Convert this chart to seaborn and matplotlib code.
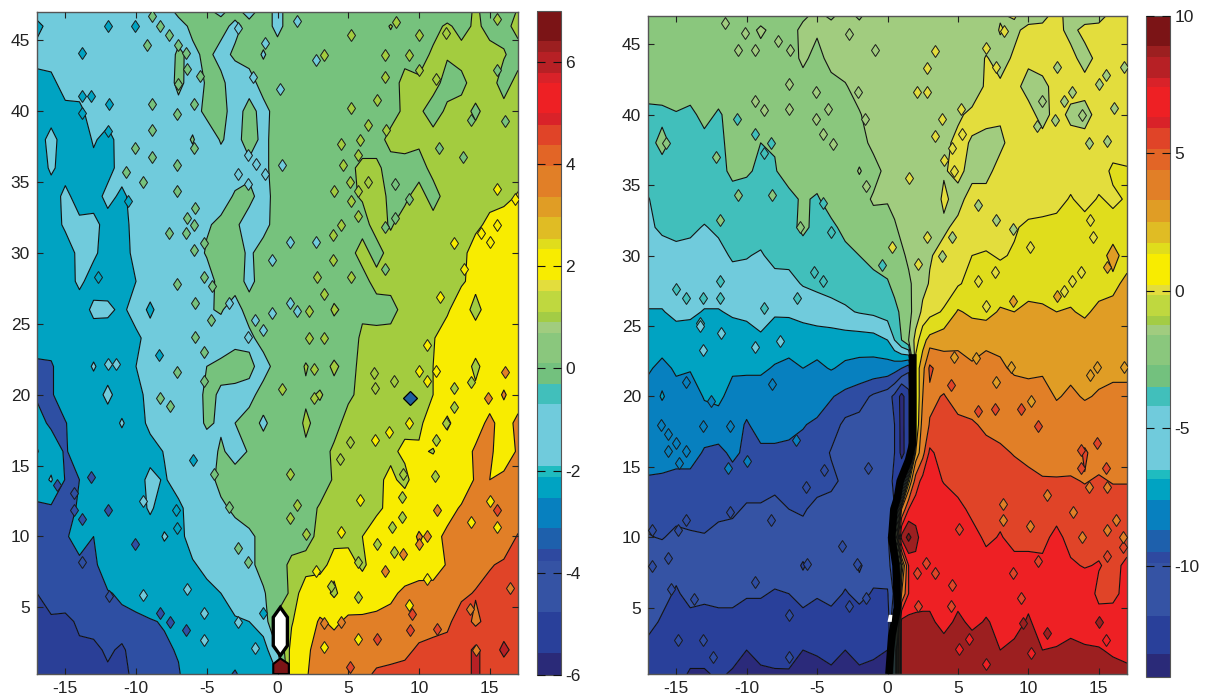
import numpy as np
import matplotlib
matplotlib.use("Agg")
import matplotlib.pyplot as plt
from matplotlib.colors import ListedColormap, BoundaryNorm
from matplotlib.colorbar import ColorbarBase
import seaborn as sns

y_rows = [47, 46, 44, 42, 40, 38, 36, 34, 32, 30, 28, 26, 24, 22, 20, 18, 16, 14, 12, 10, 8, 6, 4, 2, 0.3]
x_left = list(range(-17, 18))
x_right = list(range(-17, 0)) + [0, .5, 1, 1.5, 2, 2.5] + list(range(3, 18))

z_left = [
 [-1.2,-1.2,-1.2,-1.2,-1.2,-1.2,-1.2,-1.2,-1.2,-1.2, -.2,-.3,-.3,-.7,-.1,-.9,0,-.8,0,0, 0,0,0,0,0,0,0,0,0,0, .1,.9,.2,.1,.8],
 [-2.6,-1.2,-1.2,-1.2,-1.2,-1.2,-1.2,-1.2,-.6,-.8, -1,-.2,-.5,-.1,-.8,-.1,0,-.8,0,0, 0,0,.7,0,0,.8,0,.3,.3,.9, .3,.9,.4,.3,1.1],
 [-1.2,-1.2,-1.2,-1.2,-1.2,-1.2,-1.2,-1.2,-.9,-1.2, -.3,-.8,-.2,-.9,-.3,0,-.6,0,0,-.1, 0,0,0,0,0,0,.5,.2,.9,.8, 1.1,1.2,1,.8,.2],
 [-2.8,-2.5,-1.2,-1.2,-1.2,-1.2,-1.2,-1.2,-.9,-1.2, -.2,-1,-.4,-.2,-1.2,-1,0,-.4,0,0, 0,0,0,0,0,.4,.9,.9,1.1,.3, .4,1.2,1.2,.2,1.1],
 [-3.2,-3,-2.5,-2.4,-1.2,-1.2,-1.2,-1.2,-1.2,-1.2, -.9,-1,-.2,-.1,-1,-.1,-.9,0,0,0, 0,0,.5,.5,0,.3,.9,.9,.2,.9, 1.1,.5,1.1,1.1,1.1],
 [-3,-1.3,-3,-3.2,-1.8,-2.6,-1.2,-1.2,-1.2,-1.2, -1,-.4,-1.2,-.4,-.9,0,-.8,0,0,0, 0,.5,.5,.3,.3,1,1.1,.9,1.1,1.1, 1.1,1.1,1.1,1.1,1.1],
 [-3.5,-1.6,-3,-2.9,-2.5,-2.7,-1.2,-1.2,-1.2,-1.2, -1.2,-1,-.6,-1,-.9,-.8,-.8,0,.1,0, 0,0,.5,.9,.9,.3,.3,.3,1,1.1, 1.1,1.1,1.1,1.1,1.1],
 [-3.2,-3.2,-1.4,-3,-2.9,-1.4,-2.4,-1.2,-1.2,-1.2, -1.2,-1.2,-1,-.9,-.4,-.2,-1,0,0,0, 0,0,.5,.8,.9,.6,.5,1.1,.3,1.1, 1.2,1.1,1.2,1.2,1.7],
 [-3.2,-3.2,-1.6,-1.5,-1.4,-2.8,-2.8,-1.2,-1.2,-1.2, -1.2,-1,-.6,-.3,-.3,-1,-.9,0,0,0, 0,0,0,.3,1.1,.6,1.1,1.1,1.1,1.1, 1.2,1.3,1.9,2.3,2.1],
 [-3.2,-3.2,-3.2,-1.4,-1.6,-3,-3,-1.3,-1.2,-1.2, -1.2,-1,-.4,-.1,0,-.7,0,0,0,0, 0,0,.3,1.1,.3,1.1,1.1,1.1,1.1,1.1, 1.2,2.2,2.2,2.5,2.6],
 [-3.2,-3.2,-3.2,-1.5,-3,-2.9,-2.6,-2,-1.2,-1.2, -1.2,-1,-1,-.1,0,-.8,0,0,0,0, 0,0,.5,.3,1.1,1.1,1.1,1.1,1.1,1.2, 1.4,2.1,2.6,2.6,2.6],
 [-3.2,-3.2,-3.2,-3.2,-1.5,-1.6,-2.4,-1.2,-2.3,-1.2, -1.2,-1,-.6,-.4,-1,0,0,0,-.3,.3, 0,.9,.3,.5,.2,.3,1.1,1.1,1.2,1.4, 2.5,1,2.5,2.5,2.1],
 [-3.2,-3.2,-3.2,-3.2,-3.1,-3,-3,-2.4,-1.3,-1.2, -1.2,-1,-1,-1,-.7,-.8,0,0,0,0, 0,0,.1,.9,1.1,1.1,1.1,1.1,1.5,2.3, 2.6,2.6,2.6,2.6,2.6],
 [-4.3,-4.2,-3,-3,-1.8,-3,-3,-2,-1.2,-1.2, -1.2,-1,-.5,-.3,-.2,-.2,-1,0,0,.8, .2,.9,.3,1,1.1,1.1,1.1,1.2,1.6,1.8, 2.6,1.2,2.5,2.5,2.5],
 [-4.2,-4.2,-3,-3,-3,-1.5,-3,-2.8,-1.2,-1.2, -1.2,-1,-.3,-.6,-.7,-.9,0,0,0,.5, .8,.3,.5,1,1.1,1.2,1.1,1.4,1.6,2.5, 2.5,2,2.5,3.7,2.5],
 [-3.4,-4.3,-4.1,-3,-3,-3,-1.8,-3,-1.5,-1.2, -1.2,-1.2,-.3,-.7,-.5,0,-.7,0,0,.9, .3,.3,1.1,1.1,1.1,1.6,1.2,1.3,2.4,1.3, 2.5,2.6,4,2.6,4],
 [-4.1,-3,-4.2,-3,-3,-3,-3,-3,-2.8,-1.9, -1.2,-1.2,-1.2,-.3,-1,-.4,0,0,.5,.5, .2,.9,1.1,1.1,1.1,1.3,1.9,1.8,1.5,2.5, 2.5,3.8,3.8,2.6,3.7],
 [-3,-1.8,-4.1,-4,-3.2,-3,-3,-3,-1.4,-2.2, -1.2,-1,-.9,-.2,.1,0,0,0,0,0, .2,.8,1,1.1,1.3,1.9,1.2,2.5,2.6,2.5, 2.3,3.7,3.5,3.9,3.9],
 [-4.3,-4.3,-4.3,-3.9,-3.2,-3,-3,-3,-1.7,-3, -2.4,-1.2,-1.2,-.7,-.3,0,0,0,0,.3, .8,1,1,1.1,1.3,2,2.5,2.6,2.8,2.8, 3.7,3.9,4,4,4],
 [-4.5,-4.3,-4.3,-3,-4,-3,-3,-3,-3,-1.8, -2.6,-1.2,-1,-.9,-.9,-.7,-.2,0,.3,.3, 1,1.3,1.2,1.6,2.4,2.5,2.6,3.7,2.9,3.9, 4,4,4,4,4.9],
 [-4.5,-4.5,-4.5,-4.5,-4.3,-3.2,-3,-3,-3,-3, -2.8,-2.2,-1.5,-1,-.9,-.7,-.2,.3,.9,1.1, 1.2,2,2.2,1.3,2.4,2.5,2.6,3,2.9,3.6, 3.9,4.2,4.7,5,5],
 [-5,-4.7,-4.3,-4.4,-4.2,-4.1,-3.8,-3.6,-3.1,-3, -2.9,-2.8,-2.5,-2,-1.6,-1.2,-.6,.1,.9,2.3, 2.4,1.3,2.5,2.6,2.8,3.2,3.8,3.9,4,4.2, 4.5,4.9,5.2,5.3,5.3],
 [-5,-5.1,-5.3,-4.8,-4.5,-4.3,-4.3,-4.2,-4.1,-3.9, -3,-3,-3,-2.9,-2.1,-2,-1.2,1,1.5,2.5, 3.7,3.2,3.8,3.8,3.9,4,4.1,4.2,4.3,4.5, 5.5,4.5,5.3,5.3,5.3],
 [-5.3,-5.3,-5.2,-5.2,-5.3,-4.8,-5.2,-4.4,-4.4,-4.2, -3.9,-3.6,-3.2,-3,-3,-2.9,-2.7,-.5,2,3.3, 3.9,4.2,4.2,4.2,4.2,4.2,4.5,5,5.2,5.3, 5.3,6.3,5.3,6.3,5.5],
 [-5.2,-5.2,-5.2,-5.2,-5.2,-5.2,-5.2,-4.8,-4.8,-4.4, -4.1,-3.3,-3.8,-3.3,-4.2,-3,-3,-2,2.3,3.4, 4,4,4,4.4,5,5.2,5.2,5.3,5.3,5.3, 5.3,6.3,5.3,5.3,5.5],
]

z_right = [
 [-2.2,-2.2,-2.2,-2.2,-2.2,-2.2,-2.2,-2.2,-2.2,-2, -1.8,-1.7,-1.2,-1.7,-1,-1.7,-.8, -.8,-.8,-.8,-.8,-.8,-.8,-.8, -.8,-.8,-.8,-.8,-.1,.1,-.6,-.3,.4,-.5, -.6,-.4,.4,.4],
 [-2.2,-2.2,-2.2,-2.2,-2.2,-1.6,-2.2,-2.2,-1.2,-2, -2,-1.2,-1.3,-1,-.9,-1,-.8, -.8,-.8,-.8,-.8,-.8,-.8,-.8, -.8,-.8,-.8,-.8,.1,-.3,.4,.3,.4,-.4, .4,.4,.3,.4],
 [-2.2,-2.2,-2.2,-2.2,-2.2,-2.2,-2.2,-2.2,-2.2,-1.7, -2.2,-1.2,-2,-1,-.9,-1,-.8, -.8,-.8,-.8,-.8,-.8,-.8,-.8, -.8,-.8,-.8,.1,-.5,.2,.3,.5,.5,.4, -.5,.4,.5,.5],
 [-2.2,-2.2,-2.2,-2.2,-2.2,-2.2,-2.2,-2.2,-2.2,-2.2, -2.2,-2.1,-2,-2,-1.6,-1,-.9, -.8,-.8,-.8,-.8,-.8,-.8,-.4, -.8,-.8,-.8,.2,.2,.4,-.5,-.3,.4,.5, .5,.5,.5,.5],
 [-3.5,-3.4,-3.1,-3.4,-2.5,-3.2,-2.4,-2.8,-2.2,-2.2, -2.2,-2.2,-2.1,-1.5,-1.7,-1.6,-.9, -.8,-.8,-.8,-.8,-.8,-.8,-.8, -.8,-.2,.3,.5,.2,.4,.5,-.5,.5,-.3, -.5,.5,.5,.5],
 [-3.6,-2.5,-3.6,-3.6,-3.5,-3.3,-2.6,-2.3,-3,-2.9, -2.2,-2.2,-2.2,-1.7,-2.2,-2.1,-1.1, -.8,-.8,-.8,-.8,-.8,-.8,-.8, -.3,.3,-.1,-.5,-.3,.6,.5,.5,.5,.5, .5,.5,.5,.5],
 [-3.7,-3.7,-3.7,-3.7,-3.7,-3.6,-2.6,-2.8,-3.3,-3.1, -2.4,-2.2,-2.2,-2.2,-2.2,-1.4,-2.1, -1,-.9,-.8,-.8,-.8,-.8,-.8, -.1,.3,-.4,-.4,.5,.5,.5,.5,.5,.5, .5,.5,1.2,1.1],
 [-4.6,-3.7,-3.7,-3.7,-3.7,-3.7,-3.7,-3.7,-3.6,-3.6, -3.4,-2.8,-3.2,-2.2,-2.2,-2.2,-1.3, -1.4,-1,-.9,-.8,-.8,-.8,-.8, .2,-.4,.5,.5,.5,.5,.5,.5,.6,1.1, .6,1.1,.8,1.1],
 [-4.7,-4.3,-4,-4.2,-4.6,-4.2,-3.7,-3.7,-3.7,-3.6, -3.4,-2.7,-3.4,-3.4,-2.5,-2.2,-2.2, -2,-1.7,-1.1,-.9,-.8,-.8,-.8, -.2,.3,.5,.5,.5,.9,1.2,1.3,1.4,1.5, 1.5,1.5,1.4,1.3],
 [-5,-5,-5,-5,-4.6,-5,-4.3,-4.4,-4.7,-3.9, -4.1,-3.7,-3.7,-3.6,-3.5,-3,-2.5, -2.5,-2.2,-1.8,-1.2,-.9,-.5,-.1, .4,.5,1,1.1,.9,1.1,1.2,1.3,1.4,1.5, 1.5,1.5,2.4,1.5],
 [-5.2,-5.2,-5.2,-5.2,-5.2,-5.2,-5.2,-5.2,-5.2,-5.2, -4.9,-4.4,-4.2,-3.9,-3.9,-3.7,-3.5, -3.1,-2.7,-2.4,-1.8,-1,-.4,.1, .5,.9,1.3,1.5,1.5,1.5,1.5,1.5,1.5,1.5, 1.5,1.5,1.7,2.3],
 [-6.1,-6.1,-5.6,-5.7,-6.1,-6.1,-5.8,-5.6,-5,-5.8, -5.8,-5.5,-5.2,-5.1,-4.7,-4.4,-4.2, -3.8,-3.3,-2.8,-2,-.8,.3,.7, 1.1,2.1,1.8,1.7,2.1,2,2.3,2.2,2,2.1, 1.8,2.3,2.4,2.6],
 [-6.8,-6.8,-6.8,-6.8,-6.8,-6.8,-6.8,-6.8,-6.4,-6.9, -6.8,-6.8,-6.8,-6.7,-6.7,-6.7,-6.6, -6,-4.5,-3,-1.5,.5,1.7,2.3, 2.6,2.7,2.7,2.7,2.7,2.7,2.7,2.7,2.7,2.7, 2.7,2.7,2.7,2.7],
 [-7.3,-7.9,-7.3,-7.4,-7.3,-7.3,-7.3,-7.3,-7.3,-7.6, -7.9,-7.5,-7.8,-7.4,-7.8,-8,-8.1, -8.2,-8.5,-9,-10,1.5,2.5,4.8, 3.6,3.5,3.1,3.5,3.2,2.8,2.7,2.8,2.7,2.7, 2.7,2.7,2.7,2.7],
 [-8.1,-7.4,-8,-8.2,-7.4,-7.2,-8,-8.1,-8.1,-8.1, -8.1,-8.1,-8.1,-8.9,-9.4,-9.8,-10.5, -11,-11.8,-13.5,-12,1,3,4.2, 4.6,3.8,3.6,3.6,3.6,3.6,3.5,3.5,2.9,3.2, 2.9,3.1,3.3,3.3],
 [-8.1,-8.1,-8.1,-8.1,-8.1,-8.1,-8.1,-9.2,-8.2,-8.2, -8.4,-8.9,-9.3,-9.7,-10.6,-10.7,-10.6, -10.9,-11.5,-13.5,-12,1,3.5,4.6, 4.9,4.9,4.7,4.2,3.9,3.9,3.7,3.8,3.6,3.6, 3.6,3.6,3.6,3.6],
 [-8.2,-8.2,-8.2,-8.2,-9.2,-9.4,-8.7,-9.3,-9.4,-9.4, -9.5,-9.5,-9.6,-10.4,-10.7,-10.6,-10.7, -11,-11.5,-13.4,-12.3,2,4,6.3, 5.3,5.3,5.3,5,4.8,4.4,4.2,4,3.9,3.6, 4.7,3.8,3.8,3.8],
 [-9.2,-9.3,-9.6,-9.6,-9.6,-9.6,-9.6,-9.6,-9.6,-9.9, -10.2,-9.6,-9.6,-10,-10.6,-10.7,-10.7, -11.3,-11.6,-11.5,1.5,5.2,6.5,6.8, 5.9,5.3,5.3,5.3,5.2,5.2,4.8,4.6,4.6,4.7, 4.4,4.7,4.4,4.4],
 [-9.7,-9.7,-9.7,-9.7,-9.7,-9.8,-10,-10.5,-10.5,-10.7, -10.3,-10.1,-10.8,-10.8,-10.8,-10.8,-10.8, -11,-11.5,3,6,6.8,7,7, 7,6.5,5.6,5.7,5.6,5.5,5.5,5.4,5.4,5.4, 5.3,5.3,5.3,5.3],
 [-10.4,-10.2,-10.7,-10.5,-10.4,-10.9,-10.9,-10.9,-10.9,-10.9, -10.9,-10.9,-10.9,-10.9,-10.9,-10.9,-10.9, -11.3,-3,8,9.5,8,6.8,7, 7,7,6.6,5.7,6.1,5.6,5.5,5.6,6.4,5.5, 5.5,5.5,5.4,5.3],
 [-11,-11.4,-11,-11,-11,-11,-11,-11,-11,-11, -11,-11.6,-11,-11,-11,-11.6,-11.1, -11,-9,1,6,7,7,7, 7,7,6.8,6.6,6.8,6.4,6.5,6.3,6.4,6.2, 5.9,6.1,5.6,6.3],
 [-11,-11,-11.7,-11,-11.2,-11,-11,-11.4,-11.4,-11.6, -11.5,-11,-11.4,-11.1,-11.6,-11.2,-11.6, -11.6,-10,3,6,6.9,7,7, 7,7,7,7,7,7,7,7,7,7, 7,5.6,5.7,6.4],
 [-11,-11.7,-12,-12,-12,-12,-12,-12,-12,-12, -12,-12,-12,-12,-12,-12,-12, -12.5,-8,8,8,7.8,7.8,7.8, 7,7.8,7.2,7.6,7.2,6.9,7.7,6.8,6.8,6.8, 6.7,6.7,6.6,6.6],
 [-12,-12,-12,-12,-12,-12,-12,-13,-12.5,-12, -11.9,-13,-12.9,-12.5,-13,-12.5,-12.8, -13,-5,8,8,8,8.2,8.2, 8.2,8.2,8.2,8.2,7.5,7.9,8.1,7.5,7.6,8, 7.7,7.6,7.3,6.9],
 [-12,-12,-12,-13.3,-13.3,-12.6,-13.3,-13.3,-13.3,-13.3, -13.3,-13.3,-13.3,-13.3,-13.3,-13.3,-13.3, -13.5,-5,8,8,8,8,8, 8,8,8,8,8,8,8,8,8,8, 8,8,8,8],
]

# contour intervals of each panel and their fill colours
levels_left = [-6.5, -5, -4, -2, -.5, .7, 1.6, 3.5, 4.8, 6, 7.5]
fills_left = ["#2A3F97", "#2E4FA3", "#00A3C2", "#70CBDC", "#76C27D", "#A3CC3F", "#F8EC00", "#E17F27", "#E04428", "#B72025"]
levels_right = [-14.5, -13, -11.5, -10.3, -9, -7.5, -6, -4.5, -3, -1.5, 0, 1, 2, 3, 4.5, 6, 7.5, 9, 10.5]
fills_right = ["#2B2A7A", "#29409A", "#3553A4", "#2E4CA2", "#0780BF", "#00A3C2", "#70CBDC", "#41BFBB", "#8AC77D",
               "#A1CC7F", "#E3DD3D", "#E0DD1C", "#E09D25", "#E17F27", "#E04428", "#EE2024", "#9C1F20", "#7B1416"]

# colour-bar bands (same colour sequence, different value edges)
bar_colors = ["#2A2A78", "#29409A", "#3553A4", "#2E49A0", "#1E60AC", "#0780BF", "#00A3C2", "#1FBCC0", "#70CBDC", "#41BFBB",
              "#73C17E", "#8AC77D", "#A1CC7F", "#A3CC45", "#BFD83F", "#E3DD3D", "#F8EC00", "#E0DD1C", "#E0BC24", "#E09D25",
              "#E17F27", "#E26526", "#E04428", "#D92229", "#EE2024", "#D92229", "#B72025", "#9C1F20", "#7B1416"]
bar_edges_left = [-6, -5.57, -4.77, -3.76, -3.54, -3.13, -2.54, -2.13, -1.91, -.7, -.3, .1, .7, .91, 1.11, 1.52, 1.73, 2.34,
                  2.54, 2.96, 3.36, 3.96, 4.37, 4.77, 5.0, 5.58, 5.78, 6.2, 6.41, 7]
bar_edges_right = [-14.03, -13.2, -11.8, -9.9, -9.5, -8.7, -7.6, -6.85, -6.5, -4.2, -3.5, -2.7, -1.6, -1.25, -.9, -.15, .2,
                   1.35, 1.75, 2.5, 3.3, 4.4, 5.15, 5.9, 6.3, 7.4, 7.75, 8.5, 8.9, 10]
bar_ticks_left = [-6, -4, -2, 0, 2, 4, 6]
bar_ticks_right = [-10, -5, 0, 5, 10]
x_ticks = [-15, -10, -5, 0, 5, 10, 15]
y_ticks = [5, 10, 15, 20, 25, 30, 35, 40, 45]

# small isolated islands: (x, y) by colour
L_teal = [(-12,46),(-10.1,46),(-13.8,44.1),(-13.8,41.1),(-13.8,39.9),(-12,38.6),(-11.9,40.5),(-13.2,41.1),(-10.6,33.7),(-12.7,28.3),
          (-8.4,22.8),(-7.2,11.9),(-7.1,10.6),(-1,4.6),(-6,15.4)]
L_green = [(-8.9,46.7),(-8.3,46),(-9.2,44.7),(-7.7,45.4),(-7,44.7),(-6.5,44.1),(-6.4,43),(-5.5,42.5),(-7,41.9),(-5.9,40.5),(-7.1,39.8),
           (-8.9,40.5),(-8.9,38.7),(-5.9,37.4),(-10.1,37.4),(-8.9,36.8),(-7.1,36.2),(-10.7,35.7),(-9.5,35),(-7.1,34.4),(-5.8,33.2),
           (-6.4,32.5),(-5.9,32),(-7.7,31.4),(-6.5,31.4),(-5.2,30.7),(-5.9,30.2),(-5.2,28.3),(-4.6,27.7),(-7.1,27.8),(-5.8,26.5),
           (-4.7,25.3),(-5.8,24.1),(-5.2,23),(-4.5,14.4),(-3.4,12.1),(-2.8,9.2),(-7.1,21.6),(-5.2,21),(-8.3,19.8),(-7.6,19.2),(-2.1,8.2),
           (13.1,36.8),(13.7,39.4),(15.5,42.9),(16.1,39.3),(11.4,37.4),(8.3,34.9),(9.3,33.8),(8.3,32.5),(7.6,31.8),(7.6,28.9)]
L_cyan = [(-2.8,45.9),(-.9,44.8),(-1.7,42.4),(-2.1,36.9),(-1.5,36.3),(-2.8,35.6),(-.9,35.6),(-2.1,34.9),(-.4,29.5),(-3.4,26.5),(-1.6,25.3),
          (-.4,25.8),(-1,24.6),(-2.1,24.1),(2.7,43.6),(.2,41.6),(1.4,46.4),(.3,36.2),(.9,30.8),(2.7,30.8),(.9,26.5),(1.4,25.9),
          (-9.5,12.5),(-9.5,5.9),(-6.4,6.3),(-5.2,4.6),(-5.2,2.7),(-1.6,2.1),(-2.8,4),(-12,22.2),(-11.4,22.2)]
L_lime = [(5.2,45.4),(3.3,44),(7.6,44),(9.3,44),(10,45.4),(11.9,45.5),(8.4,46.3),(15.5,46.5),(10,42.9),(11.2,42.3),(7.6,42.4),(7,40.8),
          (5.2,40.2),(6.4,39),(7.7,38.7),(5.8,38),(4.5,37.7),(5.7,36.9),(4.6,36.2),(5.1,35),(6.4,35),(4,34.4),(5.7,34.4),(5.2,33.7),
          (5.7,32.6),(4.5,32),(3.9,31.3),(3.9,29.5),(2.8,28.3),(5.2,28.3),(3.3,27.1),(2.2,25.9),(2.2,24),(3.3,24),(2.6,21.8),(.9,14.4),
          (.3,20.4),(2.6,19.8),(1.4,12.2),(.9,11.3),(2,10.2),(13.7,20.9),(12.5,20.5),(12.5,19.1),(11.9,18),(11.2,16.8),(8.9,14.4),
          (8.8,12.8),(8.8,11.4),(8.1,10.7),(7,9.5),(8.2,8.9),(5.7,8.2),(3.8,6.5),(5.7,5.7),(11.1,14.3),(6.8,21.5),(8.2,21),(6.9,20.5),(5.1,16.7),(4.4,15.5)]
L_yellow = [(15.5,34.5),(16.8,33.8),(15.5,32),(14.4,31.4),(12.5,30.7),(15,30.8),(13.2,28.9),(11.5,26.9),(10.6,23.5),(10,21.7),(11.2,21.7),
            (10.6,21),(9.3,18),(7.9,17.4),(6.9,16.8),(5.8,12.6),(4.5,10.3),(2.7,7.6),(15,12.5),(15.5,10.7),(13.7,11),(9.3,5.2),(10.6,7),(5.7,2.8),(3.3,2.2)]
L_orange = [(16.1,21.6),(14.9,19.8),(11.3,11.9),(10.6,10),(10,9.5),(8.9,8.8),(7.6,7.6),(3.3,3.9),(4.5,4),(13.6,4.9),(16.4,6.4),(14,2)]
L_red = [(15.5,11.9),(9.5,4.5),(9.4,3.4),(7,2.8),(5.1,.8),(11.3,3.5)]
L_blue = [(-15.6,13.6),(-14.4,11.9),(-13.8,11.2),(-12,11.9),(-14.4,13.1),(-13.8,8.2),(-11.9,5.8),(-10.1,9.5),(-8.3,4.6),(-7.6,4),(-6.5,3.4),(-13.2,14.2)]

R_light = [(-11.5,46.5),(-10.1,45.8),(-10.6,44.6),(-9.4,44.6),(-7.8,45.2),(-6.9,44.6),(-7,42.2),(-9.4,41),(-8.8,40.3),(-7,40.4),(-5.1,41.6),
           (-5.1,39.7),(-4.6,38.6),(-3.9,37.9),(-4.2,40.4),(-2.1,41.6),(-2.7,45.7),(-.9,44.6),(-1.6,39.7),(-1.5,34.9),
           (4.6,31.3),(3.9,30),(6.4,33.6),(7.7,32.5),(8.9,31.9),(14.3,38),(15.6,38.1),(12.5,41),(15,42.2),(15.5,42.8),(13.1,41.6),
           (16.8,43.4),(12,43.4),(10.6,39.2),(16.1,40.5),(11.9,39.6),(13.8,40),(11,41)]
R_teal = [(-10.7,39.7),(-9.4,38.6),(-8.3,38),(-8.8,37.3),(-4.6,33.7),(-4,31.7),(-.4,29.3),(-15,27.6),(-14.3,27),(-13.1,27),(-11.9,27),
          (-11.9,28.2),(-8.8,26.3),(-6.4,27),(-5.2,28.8),(-4.6,28.2),(-13.3,25.2)]
R_green = [(-11.9,32.5),(-10.6,34.3),(-8.2,34.3),(-12.2,37),(-15.7,38),(-6.2,32)]
R_cyan = [(-11.8,24.5),(-7.6,23.9),(-9.4,23.5),(-13.3,25),(-13.1,23.3)]
R_aqua = [(-14.3,21),(-12.5,19.7),(-6.5,16.9),(-10,15.4),(-11.3,14.9),(-14.8,15.3),(-16.1,18),(-15.6,17.3),(-15,16.7),(-15.6,16.1),(-14.3,16.1),
          (-13.1,17.9),(-11.2,17.9),(-8.2,20.9)]
R_dark = [(-11.2,11.8),(-8.3,11.2),(-14.3,11.2),(-14.9,10.5),(-16.7,10.5),(-3.2,9.4),(-5.7,8.1),(-2.2,8.1),(-9.4,6.8),(-15.4,6.3),(-16.7,8),
          (-13.7,5.6),(-15.6,8.5),(-4.5,14.8),(-5.8,13.6),(-1.4,14.9),(-1.5,5.7),(-2.7,5.1),(-7,4.5),(-14.9,2.7),(-13.1,2.7),(-12.4,1.5),(-7,1.5)]
R_yellow = [(3.4,44.5),(2.8,43.3),(2.8,41.6),(2.1,41.6),(7,44.7),(7.7,43.4),(8.3,45.9),(5.2,40.4),(3.9,39.7),(3.4,38.5),(5.3,38.6),(4,36.8),
            (4.7,36),(1.5,35.5),(2.8,31.3),(2.2,29.4),(.3,30.6),(4.6,37.6),(7.6,28.8),(6.4,28.2),(7,26.4),(13.1,28.2),(12.5,27.5),(13.7,28.8),
            (14.4,32.5),(14.6,31.3),(10.1,30.6)]
R_amber = [(8.9,26.8),(12,27.1),(15.6,29.2),(4.7,22.8),(6.3,22.7),(8.8,22.1),(14.9,22.1),(14.4,21.5),(16.8,22.1),(7.7,21),(10.2,19.7)]
R_rust = [(4.5,20.8),(6.4,19),(7.6,19.1),(9.5,19.1),(10.7,17.9),(14.9,16.7),(13.7,14.9),(13.7,16.2),(15.5,14.9),
          (2.7,8.2),(2.1,7.5),(3.4,7.5),(10.7,8.3),(8.9,7.5),(15.6,8.7),(9.5,5.7),(2.2,5.1),(4.5,5.1),(4.6,6.6),(5.1,10.6),(16.7,9.3)]
R_orange = [(11.3,13),(15.6,13.6),(14.3,13.6),(13.2,11.8),(8.2,12.4),(8.2,11.2),(13.8,10),(16.7,10),(16.2,11.2),(15.6,10.5),(10.1,10.8)]
R_red = [(5.8,2.8),(5.1,2.1),(15.5,2.7),(7,1),(10.2,1.8)]
R_maroon = [(15,4),(11.3,3.2),(9.6,3.9)]

# the singular features near the origin
hole_x = [-.3, -.3, .2, .7, .7, .2]
hole_y = [2.3, 4.3, 5, 4.3, 2.3, 1.6]
tip_x = [-.3, -.3, .2, .8, .8]
tip_y = [.3, 1, 1.4, 1, .3]
spot_x = [9.4]
spot_y = [19.8]
core_x = [1.8, 1.8, 1.5, .9, .7, .45, .3, .6, .7, .5, .3, .1]
core_y = [23, 16.7, 15.5, 14, 12.8, 12, 10, 8, 5, 4, 3, .3]
gap_x = [.0, .1, .35, .3]
gap_y = [4.0, 4.5, 4.5, 4.0]

sns.set_style("ticks")
plt.rcParams["font.family"] = ["Liberation Sans", "DejaVu Sans"]
plt.rcParams["axes.unicode_minus"] = False
W, H = 1205, 697
fig = plt.figure(figsize=(W / 100, H / 100), dpi=100)


def box(l, t, r, b):
    return [l / W, 1 - b / H, (r - l) / W, (b - t) / H]


def panel(rect, xs, zs, levels, fills):
    ax = fig.add_axes(rect)
    z = np.array(zs, dtype=float)
    ax.contourf(xs, y_rows, z, levels=levels, colors=sns.color_palette(fills).as_hex(), antialiased=True)
    ax.contour(xs, y_rows, z, levels=levels[1:-1], colors="#111111", linewidths=.8, linestyles="solid")
    ax.set_xlim(-17, 17)
    ax.set_ylim(.3, 47)
    ax.set_xticks(x_ticks)
    ax.set_yticks(y_ticks)
    ax.set_axisbelow(False)
    ax.tick_params(direction="in", top=True, right=True, length=4, width=.8, labelsize=12.5, color="#222222",
                   pad=5, labelcolor="#222222")
    for s in ax.spines.values():
        s.set_color("#555555")
        s.set_linewidth(1)
    return ax


def spots(ax, points, color):
    xs = [p[0] for p in points]
    ys = [p[1] for p in points]
    ax.plot(xs, ys, marker="d", ms=6.5, mfc=color, mec="#1a1a1a", mew=.7, ls="none", zorder=3, clip_on=True)


def bar(rect, edges, ticks):
    cax = fig.add_axes(rect)
    cm = ListedColormap(sns.color_palette(bar_colors).as_hex())
    cb = ColorbarBase(cax, cmap=cm, norm=BoundaryNorm(edges, len(bar_colors)), spacing="proportional",
                      ticks=ticks, orientation="vertical")
    cb.minorticks_off()
    cb.outline.set_edgecolor("#555555")
    cb.outline.set_linewidth(.8)
    cax.set_axisbelow(False)
    cax.tick_params(axis="y", direction="in", left=True, right=True, length=6, width=.8, labelsize=12.5,
                    labelcolor="#222222", pad=3, color="#111111")
    cax.set_yticks(ticks)
    cax.set_yticklabels([str(t) for t in ticks])


ax1 = panel(box(37, 12, 518, 674), x_left, z_left, levels_left, fills_left)
for pts, col in [(L_teal, "#00A3C2"), (L_green, "#76C27D"), (L_cyan, "#70CBDC"), (L_lime, "#A3CC3F"),
                 (L_yellow, "#F8EC00"), (L_orange, "#E17F27"), (L_red, "#E04428"), (L_blue, "#2E4FA3")]:
    spots(ax1, pts, col)
ax1.fill(tip_x, tip_y, facecolor="#7B1416", edgecolor="black", lw=1.5, zorder=5)
ax1.fill(hole_x, hole_y, facecolor="white", edgecolor="black", lw=2.4, zorder=5)
ax1.plot(spot_x, spot_y, marker="D", ms=7, mfc="#1F5F9E", mec="black", mew=.9, ls="none", zorder=5)
bar(box(537, 10.7, 561, 675), bar_edges_left, bar_ticks_left)

ax2 = panel(box(648, 16, 1127, 674), x_right, z_right, levels_right, fills_right)
for pts, col in [(R_light, "#A1CC7F"), (R_teal, "#41BFBB"), (R_green, "#8AC77D"), (R_cyan, "#70CBDC"), (R_aqua, "#0780BF"),
                 (R_dark, "#2E4CA2"), (R_yellow, "#E3DD3D"), (R_amber, "#E09D25"), (R_rust, "#E04428"),
                 (R_orange, "#E17F27"), (R_red, "#EE2024"), (R_maroon, "#9C1F20")]:
    spots(ax2, pts, col)
ax2.plot(core_x, core_y, color="black", lw=5.4, solid_capstyle="butt", zorder=5)
ax2.fill(gap_x, gap_y, facecolor="white", edgecolor="none", zorder=6)
bar(box(1146, 15.6, 1170, 677), bar_edges_right, bar_ticks_right)

fig.savefig("out.png", dpi=100)
